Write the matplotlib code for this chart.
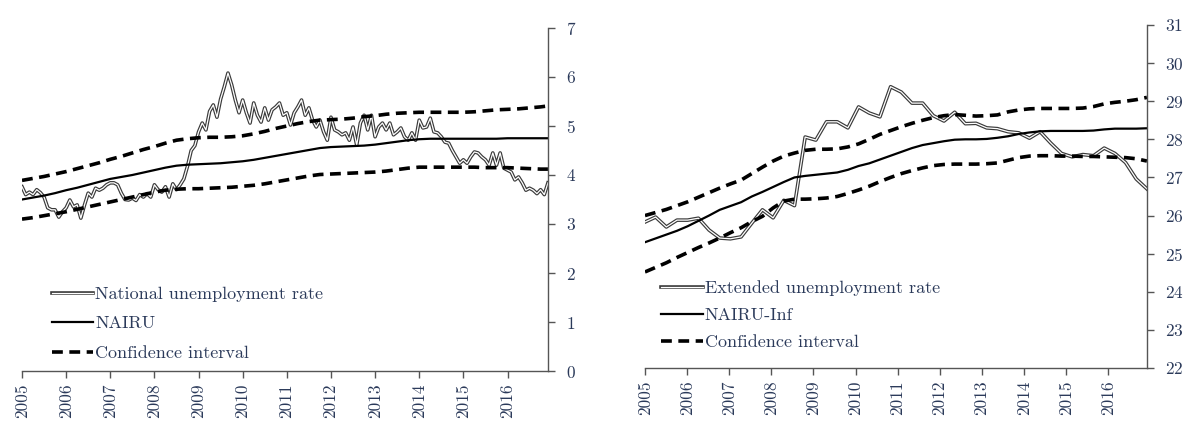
import matplotlib
matplotlib.use("Agg")
import matplotlib.pyplot as plt
import matplotlib.patheffects as pe
import numpy as np

plt.rcParams['font.family'] = 'cmr10'
plt.rcParams['axes.formatter.use_mathtext'] = True
plt.rcParams['font.size'] = 12.5

TXT = '#2b3a5a'

years = ['2005', '2006', '2007', '2008', '2009', '2010', '2011',
         '2012', '2013', '2014', '2015', '2016']

# left panel: national unemployment rate, monthly Jan 2005 - Dec 2016
national = [
    3.76, 3.60, 3.65, 3.60, 3.70, 3.64, 3.55, 3.33, 3.29, 3.29, 3.14, 3.25,
    3.33, 3.49, 3.35, 3.39, 3.12, 3.39, 3.63, 3.55, 3.73, 3.69, 3.73, 3.80,
    3.84, 3.84, 3.80, 3.63, 3.50, 3.49, 3.53, 3.48, 3.60, 3.55, 3.62, 3.55,
    3.80, 3.70, 3.65, 3.76, 3.55, 3.82, 3.70, 3.80, 3.92, 4.18, 4.50, 4.60,
    4.88, 5.06, 4.92, 5.30, 5.43, 5.18, 5.55, 5.80, 6.08, 5.84, 5.53, 5.27,
    5.53, 5.27, 5.06, 5.47, 5.22, 5.08, 5.37, 5.12, 5.33, 5.39, 5.47, 5.22,
    5.27, 5.02, 5.27, 5.39, 5.53, 5.22, 5.37, 5.12, 4.98, 5.12, 4.88, 4.71,
    5.18, 4.92, 4.88, 4.82, 4.86, 4.71, 4.98, 4.61, 5.06, 5.22, 4.92, 5.22,
    4.78, 4.98, 5.06, 4.92, 5.06, 4.82, 4.88, 4.96, 4.78, 4.71, 4.86, 4.71,
    5.12, 4.96, 4.98, 5.16, 4.88, 4.86, 4.78, 4.67, 4.65, 4.50, 4.37, 4.24,
    4.31, 4.24, 4.37, 4.47, 4.45, 4.37, 4.31, 4.20, 4.45, 4.20, 4.45, 4.14,
    4.10, 4.06, 3.90, 3.96, 3.84, 3.69, 3.73, 3.69, 3.62, 3.70, 3.60, 3.84,
]

# left panel smooth lines, quarterly plus the last month
nairu = [
    3.50, 3.54, 3.58, 3.63, 3.69, 3.74, 3.80, 3.86, 3.92, 3.96, 4.00, 4.05,
    4.10, 4.15, 4.19, 4.21, 4.22, 4.23, 4.24, 4.26, 4.28, 4.31, 4.35, 4.39,
    4.43, 4.47, 4.51, 4.55, 4.57, 4.58, 4.59, 4.60, 4.62, 4.65, 4.68, 4.71,
    4.73, 4.74, 4.74, 4.74, 4.74, 4.74, 4.74, 4.74, 4.75, 4.75, 4.75, 4.75,
    4.75,
]
nairu_hi = [
    3.89, 3.93, 3.97, 4.02, 4.07, 4.13, 4.19, 4.25, 4.32, 4.38, 4.45, 4.52,
    4.58, 4.65, 4.71, 4.74, 4.76, 4.77, 4.77, 4.78, 4.80, 4.84, 4.89, 4.95,
    5.00, 5.05, 5.09, 5.12, 5.13, 5.14, 5.16, 5.19, 5.21, 5.24, 5.26, 5.27,
    5.28, 5.28, 5.28, 5.28, 5.28, 5.29, 5.31, 5.33, 5.34, 5.35, 5.37, 5.39,
    5.41,
]
nairu_lo = [
    3.10, 3.13, 3.17, 3.21, 3.25, 3.30, 3.35, 3.40, 3.45, 3.50, 3.55, 3.60,
    3.65, 3.69, 3.71, 3.72, 3.72, 3.73, 3.74, 3.75, 3.77, 3.79, 3.82, 3.86,
    3.90, 3.94, 3.98, 4.01, 4.02, 4.03, 4.04, 4.05, 4.06, 4.08, 4.11, 4.14,
    4.16, 4.16, 4.16, 4.16, 4.16, 4.16, 4.15, 4.15, 4.15, 4.14, 4.13, 4.12,
    4.12,
]

# right panel: quarterly Q1 2005 - Q4 2016
extended = [
    25.83, 25.96, 25.70, 25.88, 25.88, 25.93, 25.62, 25.41, 25.39, 25.44, 25.80, 26.15,
    25.94, 26.40, 26.26, 28.06, 27.98, 28.46, 28.46, 28.30, 28.85, 28.69, 28.59, 29.38,
    29.24, 28.95, 28.95, 28.62, 28.48, 28.71, 28.41, 28.42, 28.30, 28.28, 28.20, 28.17,
    28.03, 28.20, 27.90, 27.63, 27.54, 27.60, 27.57, 27.77, 27.63, 27.39, 26.96, 26.70,
]
nairu_inf = [
    25.30, 25.40, 25.50, 25.60, 25.72, 25.86, 26.00, 26.15, 26.25, 26.35, 26.50, 26.62,
    26.75, 26.88, 27.00, 27.04, 27.07, 27.10, 27.13, 27.20, 27.30, 27.37, 27.47, 27.57,
    27.67, 27.77, 27.85, 27.90, 27.95, 27.99, 28.00, 28.00, 28.01, 28.04, 28.08, 28.14,
    28.18, 28.21, 28.22, 28.22, 28.22, 28.22, 28.23, 28.26, 28.28, 28.28, 28.28, 28.29,
]
inf_hi = [
    26.00, 26.08, 26.16, 26.26, 26.36, 26.48, 26.60, 26.72, 26.83, 26.93, 27.10, 27.27,
    27.43, 27.56, 27.64, 27.71, 27.74, 27.74, 27.75, 27.80, 27.88, 28.00, 28.13, 28.23,
    28.33, 28.42, 28.50, 28.57, 28.62, 28.65, 28.63, 28.61, 28.62, 28.64, 28.72, 28.77,
    28.80, 28.81, 28.81, 28.81, 28.81, 28.82, 28.86, 28.93, 28.97, 29.00, 29.04, 29.10,
]
inf_lo = [
    24.52, 24.64, 24.76, 24.90, 25.03, 25.16, 25.28, 25.41, 25.55, 25.68, 25.84, 25.98,
    26.20, 26.38, 26.43, 26.43, 26.44, 26.46, 26.50, 26.58, 26.67, 26.77, 26.89, 27.00,
    27.10, 27.18, 27.25, 27.31, 27.34, 27.35, 27.35, 27.35, 27.36, 27.38, 27.45, 27.52,
    27.56, 27.57, 27.57, 27.56, 27.56, 27.55, 27.55, 27.54, 27.53, 27.52, 27.49, 27.43,
]

months = np.arange(len(national))
q_left = list(range(0, 144, 3)) + [143]
q_right = np.linspace(0, 143, len(extended))

double_line = [pe.Stroke(linewidth=2.6, foreground='#3a3a3a'), pe.Normal()]


def style_axis(ax, ylo, yhi):
    ax.set_xlim(0, 143)
    ax.set_ylim(ylo, yhi)
    ax.set_xticks(range(0, 144, 12))
    ax.set_xticklabels(years, rotation=90)
    ax.set_yticks(range(ylo, yhi + 1))
    ax.yaxis.tick_right()
    for s in ['left', 'top']:
        ax.spines[s].set_visible(False)
    for s in ['right', 'bottom']:
        ax.spines[s].set_color('#555555')
        ax.spines[s].set_linewidth(1.0)
    ax.tick_params(axis='both', colors='#555555', labelcolor=TXT,
                   length=5, width=1.0, labelsize=12.5)
    ax.tick_params(axis='y', pad=8)
    ax.tick_params(axis='x', pad=4)


fig = plt.figure(figsize=(11.83, 4.30), dpi=100)

ax1 = fig.add_axes([0.0186, 0.1372, 0.4446, 0.7977])
ax1.plot(months, national, color='white', lw=0.9, path_effects=double_line,
         label='National unemployment rate')
ax1.plot(q_left, nairu, color='black', lw=1.6, label='NAIRU')
ax1.plot(q_left, nairu_hi, color='black', lw=2.6, dashes=(3, 1.8),
         label='Confidence interval')
ax1.plot(q_left, nairu_lo, color='black', lw=2.6, dashes=(3, 1.8))
style_axis(ax1, 0, 7)
leg1 = ax1.legend(loc='lower left', bbox_to_anchor=(0.026, -0.018), frameon=False,
                  handlelength=2.3, handletextpad=0.1, labelspacing=0.77,
                  fontsize=13)
for t in leg1.get_texts():
    t.set_color(TXT)

ax2 = fig.add_axes([0.5452, 0.1442, 0.4243, 0.7977])
ax2.plot(q_right, extended, color='white', lw=0.9, path_effects=double_line,
         label='Extended unemployment rate')
ax2.plot(q_right, nairu_inf, color='black', lw=1.6, label='NAIRU-Inf')
ax2.plot(q_right, inf_hi, color='black', lw=2.6, dashes=(3, 1.8),
         label='Confidence interval')
ax2.plot(q_right, inf_lo, color='black', lw=2.6, dashes=(3, 1.8))
style_axis(ax2, 22, 31)
leg2 = ax2.legend(loc='lower left', bbox_to_anchor=(0.0, 0.005), frameon=False,
                  handlelength=2.3, handletextpad=0.1, labelspacing=0.62,
                  fontsize=13)
for t in leg2.get_texts():
    t.set_color(TXT)

fig.savefig('out.png', dpi=100)
